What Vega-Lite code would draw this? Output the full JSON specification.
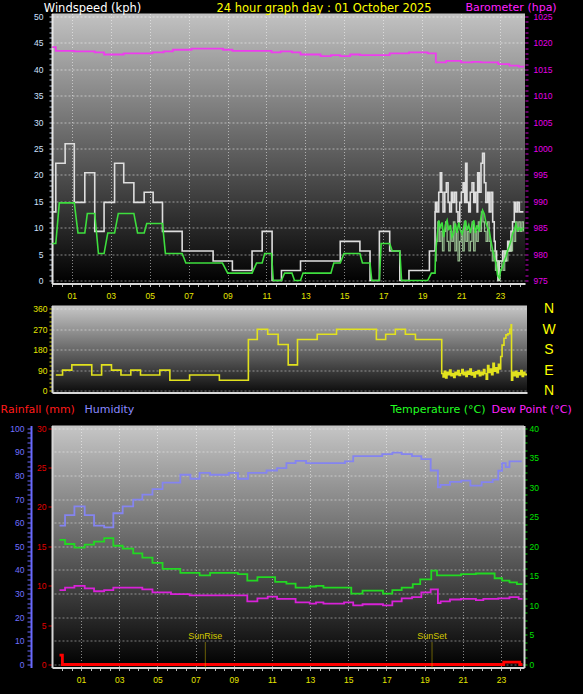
{
"$schema": "https://vega.github.io/schema/vega-lite/v6.json",
"background": "#000000",
"padding": {"left": 0, "top": 0.5, "right": 14, "bottom": 14},
"spacing": 0,
"bounds": "flush",
"config": {
  "view": {"stroke": null},
  "font": "Liberation Sans",
  "axis": {"labelFont": "Liberation Sans", "titleFont": "DejaVu Sans", "labelFontSize": 8.5, "titleFontWeight": "normal", "titleFontSize": 11.5, "labelOverlap": false, "labelBound": false, "labelFlush": false, "titleAngle": 0, "titleAlign": "left", "titleBaseline": "top"}
},
"resolve": {"scale": {"x": "independent", "y": "independent"}},
"datasets": {
  "gust": [{"h":0,"v":13.0},{"h":0.18,"v":22.2},{"h":0.66,"v":25.9},{"h":1.13,"v":14.8},{"h":1.67,"v":20.4},{"h":2.18,"v":9.3},{"h":2.66,"v":14.8},{"h":3.2,"v":22.2},{"h":3.67,"v":18.5},{"h":4.19,"v":14.8},{"h":4.72,"v":16.7},{"h":5.18,"v":14.8},{"h":5.66,"v":9.3},{"h":6.67,"v":5.6},{"h":8.26,"v":3.7},{"h":9.25,"v":1.9},{"h":10.26,"v":5.6},{"h":10.78,"v":9.3},{"h":11.29,"v":0},{"h":11.77,"v":1.9},{"h":12.75,"v":3.7},{"h":14.79,"v":7.4},{"h":15.8,"v":5.6},{"h":16.32,"v":0},{"h":16.8,"v":9.3},{"h":17.33,"v":5.6},{"h":17.85,"v":0},{"h":18.32,"v":1.9},{"h":19.37,"v":5.6},{"h":19.66,"v":13.0},{"h":19.68,"v":14.8},{"h":19.76,"v":13.0},{"h":19.85,"v":16.7},{"h":19.93,"v":20.4},{"h":20.0,"v":16.7},{"h":20.07,"v":13.0},{"h":20.16,"v":16.7},{"h":20.24,"v":18.5},{"h":20.33,"v":14.8},{"h":20.41,"v":13.0},{"h":20.5,"v":16.7},{"h":20.58,"v":14.8},{"h":20.67,"v":16.7},{"h":20.76,"v":13.0},{"h":20.84,"v":11.1},{"h":20.93,"v":14.8},{"h":21.01,"v":16.7},{"h":21.1,"v":18.5},{"h":21.18,"v":14.8},{"h":21.23,"v":22.2},{"h":21.3,"v":14.8},{"h":21.39,"v":13.0},{"h":21.47,"v":16.7},{"h":21.56,"v":18.5},{"h":21.65,"v":14.8},{"h":21.73,"v":16.7},{"h":21.82,"v":13.0},{"h":21.85,"v":20.4},{"h":21.93,"v":16.7},{"h":22.02,"v":22.2},{"h":22.1,"v":24.1},{"h":22.19,"v":18.5},{"h":22.27,"v":14.8},{"h":22.36,"v":16.7},{"h":22.44,"v":13.0},{"h":22.53,"v":16.7},{"h":22.62,"v":11.1},{"h":22.7,"v":7.4},{"h":22.75,"v":5.6},{"h":22.82,"v":3.7},{"h":22.89,"v":0},{"h":22.96,"v":3.7},{"h":23.13,"v":5.6},{"h":23.22,"v":3.7},{"h":23.3,"v":5.6},{"h":23.39,"v":7.4},{"h":23.47,"v":5.6},{"h":23.56,"v":9.3},{"h":23.64,"v":11.1},{"h":23.73,"v":14.8},{"h":23.81,"v":13.0},{"h":23.9,"v":14.8},{"h":23.99,"v":13.0},{"h":24.2,"v":13.0}],
  "latest": [{"h":19.66,"v":3.7},{"h":19.72,"v":7.4},{"h":19.8,"v":11.1},{"h":19.88,"v":7.4},{"h":19.96,"v":9.3},{"h":20.04,"v":5.6},{"h":20.12,"v":9.3},{"h":20.2,"v":11.1},{"h":20.28,"v":7.4},{"h":20.36,"v":5.6},{"h":20.44,"v":9.3},{"h":20.52,"v":7.4},{"h":20.6,"v":11.1},{"h":20.68,"v":5.6},{"h":20.76,"v":9.3},{"h":20.84,"v":3.7},{"h":20.92,"v":7.4},{"h":21.0,"v":9.3},{"h":21.08,"v":5.6},{"h":21.16,"v":11.1},{"h":21.24,"v":7.4},{"h":21.32,"v":9.3},{"h":21.4,"v":5.6},{"h":21.48,"v":7.4},{"h":21.56,"v":11.1},{"h":21.64,"v":5.6},{"h":21.72,"v":9.3},{"h":21.8,"v":7.4},{"h":21.88,"v":11.1},{"h":21.96,"v":9.3},{"h":22.04,"v":13.0},{"h":22.12,"v":11.1},{"h":22.2,"v":9.3},{"h":22.28,"v":7.4},{"h":22.36,"v":11.1},{"h":22.44,"v":7.4},{"h":22.52,"v":5.6},{"h":22.6,"v":3.7},{"h":22.68,"v":5.6},{"h":22.76,"v":1.9},{"h":22.84,"v":3.7},{"h":22.92,"v":0},{"h":23.0,"v":1.9},{"h":23.08,"v":3.7},{"h":23.16,"v":1.9},{"h":23.24,"v":5.6},{"h":23.32,"v":3.7},{"h":23.4,"v":5.6},{"h":23.48,"v":7.4},{"h":23.56,"v":5.6},{"h":23.64,"v":9.3},{"h":23.72,"v":7.4},{"h":23.8,"v":11.1},{"h":23.88,"v":9.3},{"h":23.96,"v":11.1},{"h":24.04,"v":9.3},{"h":24.12,"v":11.1},{"h":24.2,"v":9.3}],
  "avg": [{"h":0,"v":7.0},{"h":0.18,"v":7.0},{"h":0.36,"v":14.7},{"h":1.13,"v":14.7},{"h":1.32,"v":9.0},{"h":1.67,"v":9.0},{"h":1.8,"v":12.7},{"h":2.18,"v":12.7},{"h":2.37,"v":5.1},{"h":2.66,"v":5.1},{"h":2.85,"v":9.0},{"h":3.2,"v":9.0},{"h":3.39,"v":12.7},{"h":4.19,"v":12.7},{"h":4.38,"v":9.0},{"h":4.72,"v":9.0},{"h":4.85,"v":10.8},{"h":5.66,"v":10.8},{"h":5.81,"v":5.1},{"h":6.67,"v":5.1},{"h":6.86,"v":3.3},{"h":8.74,"v":3.3},{"h":9.01,"v":1.4},{"h":10.26,"v":1.4},{"h":10.49,"v":3.3},{"h":10.78,"v":3.3},{"h":10.91,"v":5.1},{"h":11.26,"v":5.1},{"h":11.35,"v":0},{"h":11.77,"v":0},{"h":11.93,"v":1.4},{"h":12.31,"v":1.4},{"h":12.44,"v":0},{"h":12.75,"v":0},{"h":12.88,"v":1.4},{"h":14.31,"v":1.4},{"h":14.46,"v":3.3},{"h":14.79,"v":3.3},{"h":14.98,"v":5.1},{"h":15.8,"v":5.1},{"h":15.93,"v":3.3},{"h":16.32,"v":3.3},{"h":16.41,"v":0},{"h":16.8,"v":0},{"h":16.89,"v":7.0},{"h":17.33,"v":7.0},{"h":17.46,"v":5.6},{"h":17.85,"v":5.6},{"h":17.94,"v":0},{"h":19.28,"v":0},{"h":19.47,"v":1.4},{"h":19.66,"v":1.4},{"h":19.68,"v":5.0},{"h":19.76,"v":8.0},{"h":19.85,"v":11.4},{"h":19.93,"v":10.1},{"h":20.02,"v":11.0},{"h":20.1,"v":8.2},{"h":20.19,"v":10.5},{"h":20.28,"v":11.4},{"h":20.36,"v":9.5},{"h":20.45,"v":10.5},{"h":20.53,"v":8.2},{"h":20.62,"v":9.0},{"h":20.7,"v":10.8},{"h":20.79,"v":9.0},{"h":20.88,"v":11.0},{"h":20.96,"v":9.5},{"h":21.05,"v":8.8},{"h":21.13,"v":10.0},{"h":21.22,"v":11.4},{"h":21.3,"v":9.5},{"h":21.39,"v":10.5},{"h":21.47,"v":9.0},{"h":21.56,"v":10.5},{"h":21.65,"v":11.4},{"h":21.73,"v":9.0},{"h":21.82,"v":10.5},{"h":21.85,"v":10.0},{"h":21.93,"v":9.5},{"h":22.02,"v":12.0},{"h":22.1,"v":13.3},{"h":22.19,"v":12.6},{"h":22.27,"v":11.0},{"h":22.36,"v":10.0},{"h":22.44,"v":9.5},{"h":22.53,"v":7.5},{"h":22.62,"v":5.7},{"h":22.7,"v":4.5},{"h":22.79,"v":3.2},{"h":22.87,"v":1.0},{"h":22.96,"v":0.5},{"h":23.04,"v":2.0},{"h":23.13,"v":2.5},{"h":23.22,"v":3.8},{"h":23.3,"v":4.5},{"h":23.39,"v":5.7},{"h":23.47,"v":6.5},{"h":23.56,"v":7.5},{"h":23.64,"v":8.8},{"h":23.73,"v":9.5},{"h":23.81,"v":10.7},{"h":23.9,"v":9.5},{"h":23.99,"v":10.0},{"h":24.07,"v":9.5},{"h":24.2,"v":10.0}],
  "baro": [{"h":0,"v":1019.2},{"h":0.18,"v":1018.5},{"h":1.13,"v":1018.4},{"h":2.18,"v":1018.2},{"h":2.66,"v":1017.8},{"h":3.67,"v":1018.0},{"h":5.14,"v":1018.2},{"h":5.72,"v":1018.4},{"h":6.19,"v":1018.7},{"h":7.15,"v":1018.9},{"h":8.77,"v":1018.7},{"h":9.25,"v":1018.5},{"h":11.26,"v":1018.2},{"h":11.73,"v":1018.4},{"h":12.31,"v":1018.2},{"h":12.75,"v":1017.8},{"h":13.78,"v":1017.5},{"h":14.31,"v":1017.7},{"h":14.79,"v":1017.5},{"h":15.3,"v":1017.8},{"h":15.8,"v":1017.7},{"h":17.33,"v":1018.0},{"h":18.32,"v":1018.2},{"h":19.28,"v":1018.0},{"h":19.7,"v":1016.3},{"h":20.23,"v":1016.6},{"h":20.99,"v":1016.3},{"h":21.57,"v":1016.4},{"h":22.0,"v":1016.3},{"h":22.9,"v":1016.0},{"h":23.48,"v":1015.7},{"h":23.96,"v":1015.5},{"h":24.25,"v":1015.5}],
  "dir": [{"h":-0.13,"v":68},{"h":0.22,"v":90},{"h":0.7,"v":113},{"h":1.73,"v":68},{"h":2.24,"v":113},{"h":2.75,"v":90},{"h":3.24,"v":68},{"h":3.75,"v":90},{"h":4.25,"v":68},{"h":5.25,"v":90},{"h":5.77,"v":45},{"h":6.79,"v":68},{"h":8.33,"v":45},{"h":9.83,"v":225},{"h":10.29,"v":270},{"h":10.83,"v":248},{"h":11.37,"v":203},{"h":11.89,"v":113},{"h":12.37,"v":225},{"h":13.39,"v":248},{"h":14.39,"v":270},{"h":16.45,"v":225},{"h":16.93,"v":248},{"h":17.43,"v":270},{"h":17.95,"v":248},{"h":18.47,"v":225},{"h":19.83,"v":75},{"h":19.9,"v":60},{"h":19.96,"v":85},{"h":20.03,"v":55},{"h":20.1,"v":80},{"h":20.17,"v":70},{"h":20.24,"v":90},{"h":20.31,"v":65},{"h":20.38,"v":75},{"h":20.45,"v":58},{"h":20.52,"v":80},{"h":20.59,"v":70},{"h":20.66,"v":88},{"h":20.73,"v":66},{"h":20.8,"v":75},{"h":20.87,"v":92},{"h":20.94,"v":70},{"h":21.01,"v":80},{"h":21.08,"v":62},{"h":21.15,"v":85},{"h":21.22,"v":72},{"h":21.29,"v":95},{"h":21.36,"v":68},{"h":21.43,"v":78},{"h":21.5,"v":60},{"h":21.57,"v":82},{"h":21.64,"v":74},{"h":21.71,"v":88},{"h":21.78,"v":65},{"h":21.85,"v":80},{"h":21.92,"v":70},{"h":21.99,"v":92},{"h":22.06,"v":75},{"h":22.13,"v":50},{"h":22.2,"v":110},{"h":22.27,"v":80},{"h":22.34,"v":95},{"h":22.41,"v":70},{"h":22.48,"v":120},{"h":22.55,"v":85},{"h":22.62,"v":100},{"h":22.69,"v":78},{"h":22.76,"v":115},{"h":22.83,"v":95},{"h":22.88,"v":150},{"h":22.95,"v":200},{"h":23.05,"v":230},{"h":23.15,"v":245},{"h":23.25,"v":250},{"h":23.35,"v":270},{"h":23.42,"v":290},{"h":23.44,"v":45},{"h":23.5,"v":80},{"h":23.57,"v":65},{"h":23.64,"v":85},{"h":23.71,"v":60},{"h":23.78,"v":78},{"h":23.85,"v":70},{"h":23.92,"v":88},{"h":23.99,"v":62},{"h":24.06,"v":80},{"h":24.13,"v":70},{"h":24.2,"v":75}],
  "hum": [{"h":-0.13,"v":58.8},{"h":0.16,"v":63.2},{"h":0.65,"v":66.9},{"h":1.19,"v":63.2},{"h":1.68,"v":58.8},{"h":2.21,"v":58.0},{"h":2.69,"v":64.0},{"h":3.18,"v":66.9},{"h":3.73,"v":69.8},{"h":4.21,"v":71.9},{"h":4.74,"v":74.2},{"h":5.27,"v":77.0},{"h":6.2,"v":80.3},{"h":6.73,"v":78.6},{"h":7.21,"v":81.1},{"h":7.76,"v":80.3},{"h":8.73,"v":81.1},{"h":9.22,"v":78.6},{"h":9.75,"v":81.1},{"h":10.72,"v":82.1},{"h":11.27,"v":83.1},{"h":11.76,"v":85.2},{"h":12.24,"v":86.2},{"h":12.79,"v":85.2},{"h":14.83,"v":86.0},{"h":15.26,"v":88.2},{"h":16.78,"v":89.0},{"h":17.31,"v":89.7},{"h":17.8,"v":89.0},{"h":18.34,"v":88.2},{"h":18.83,"v":86.9},{"h":19.32,"v":82.1},{"h":19.7,"v":75.0},{"h":19.84,"v":76.0},{"h":20.33,"v":77.3},{"h":20.92,"v":77.8},{"h":21.4,"v":75.7},{"h":21.99,"v":77.2},{"h":22.57,"v":78.2},{"h":22.86,"v":82.0},{"h":23.06,"v":85.2},{"h":23.25,"v":83.5},{"h":23.45,"v":86.0},{"h":24.09,"v":86.0}],
  "temp": [{"h":-0.13,"v":21.1},{"h":0.16,"v":20.4},{"h":0.65,"v":19.8},{"h":1.19,"v":20.3},{"h":1.68,"v":20.8},{"h":2.21,"v":21.4},{"h":2.69,"v":20.1},{"h":3.18,"v":19.6},{"h":3.73,"v":18.8},{"h":4.21,"v":18.1},{"h":4.74,"v":17.2},{"h":5.27,"v":16.2},{"h":6.2,"v":15.5},{"h":7.21,"v":15.1},{"h":7.76,"v":15.5},{"h":9.22,"v":15.3},{"h":9.71,"v":14.2},{"h":10.24,"v":14.8},{"h":11.17,"v":14.0},{"h":11.76,"v":13.7},{"h":12.24,"v":13.0},{"h":12.98,"v":13.2},{"h":13.31,"v":13.3},{"h":13.7,"v":13.0},{"h":15.16,"v":12.0},{"h":15.75,"v":12.5},{"h":16.82,"v":12.0},{"h":17.31,"v":12.6},{"h":17.8,"v":13.0},{"h":18.38,"v":13.6},{"h":18.77,"v":14.4},{"h":19.35,"v":15.9},{"h":19.65,"v":15.1},{"h":20.91,"v":15.3},{"h":21.69,"v":15.4},{"h":22.67,"v":14.6},{"h":23.06,"v":14.2},{"h":23.45,"v":13.9},{"h":23.84,"v":13.6},{"h":24.13,"v":13.6}],
  "dew": [{"h":-0.13,"v":12.6},{"h":0.16,"v":13.0},{"h":0.65,"v":13.3},{"h":1.19,"v":12.9},{"h":1.68,"v":12.4},{"h":2.21,"v":12.6},{"h":2.69,"v":13.0},{"h":4.21,"v":12.7},{"h":4.74,"v":12.2},{"h":5.71,"v":11.9},{"h":6.69,"v":11.7},{"h":9.71,"v":10.7},{"h":10.24,"v":11.2},{"h":10.78,"v":11.5},{"h":11.27,"v":11.1},{"h":12.24,"v":10.5},{"h":12.98,"v":10.3},{"h":13.31,"v":10.5},{"h":13.7,"v":10.3},{"h":14.78,"v":10.5},{"h":15.26,"v":10.0},{"h":15.75,"v":10.2},{"h":16.82,"v":10.0},{"h":17.31,"v":10.7},{"h":17.8,"v":11.2},{"h":18.34,"v":11.4},{"h":18.83,"v":12.2},{"h":19.32,"v":12.7},{"h":19.7,"v":10.4},{"h":19.84,"v":10.7},{"h":20.33,"v":11.0},{"h":20.91,"v":11.1},{"h":21.69,"v":10.9},{"h":22.08,"v":11.1},{"h":22.86,"v":11.2},{"h":23.45,"v":11.4},{"h":23.93,"v":11.1},{"h":24.13,"v":11.1}],
  "rain": [{"h":-0.13,"v":1.2},{"h":0.02,"v":0},{"h":23.15,"v":0.3},{"h":23.99,"v":0},{"h":24.13,"v":0}],
  "sun": [{"h":7.51,"label":"SunRise"},{"h":19.39,"label":"SunSet"}]
},
"vconcat": [
 {
  "width": 473, "height": 270,
  "view": {"fill": {"gradient": "linear", "x1": 0, "y1": 0, "x2": 0, "y2": 1, "stops": [{"offset": 0, "color": "#c2c2c2"}, {"offset": 1, "color": "#000000"}]}},
  "encoding": {
    "x": {"field": "h", "type": "quantitative", "scale": {"domain": [-0.015, 24.28], "nice": false, "zero": false},
          "axis": {"values": [0,0.5,1,1.5,2,2.5,3,3.5,4,4.5,5,5.5,6,6.5,7,7.5,8,8.5,9,9.5,10,10.5,11,11.5,12,12.5,13,13.5,14,14.5,15,15.5,16,16.5,17,17.5,18,18.5,19,19.5,20,20.5,21,21.5,22,22.5,23,23.5,24],
                   "labelExpr": "datum.value % 2 == 1 ? (datum.value < 10 ? '0' : '') + datum.value : ''",
                   "labelColor": "#e6e600", "labelPadding": 5, "tickSize": 3, "tickColor": "#bbbbbb", "domainColor": "#d6d6d6", "domainWidth": 2,
                   "grid": true, "gridColor": "#ffffff", "gridDash": [1, 2], "gridOpacity": {"condition": {"test": "datum.value % 2 == 1", "value": 0.5}, "value": 0},
                   "title": "24 hour graph day : 01 October 2025", "titleColor": "#ffff00", "titleX": 164, "titleY": -281}}
  },
  "layer": [
   {"encoding": {
      "y": {"field": "v", "type": "quantitative", "scale": {"domain": [-0.57, 50.57], "nice": false, "zero": false},
            "axis": {"values": [0,1,2,3,4,5,6,7,8,9,10,11,12,13,14,15,16,17,18,19,20,21,22,23,24,25,26,27,28,29,30,31,32,33,34,35,36,37,38,39,40,41,42,43,44,45,46,47,48,49,50],
                     "labelExpr": "datum.value % 5 == 0 ? '' + datum.value : ''",
                     "labelColor": "#cfe0ff", "labelPadding": 6, "tickSize": 3, "tickColor": "#b8c8e0", "domainColor": "#e6e6e6", "domainWidth": 2,
                     "grid": true, "gridColor": "#ffffff", "gridDash": [2, 2], "gridOpacity": {"condition": {"test": "datum.value % 5 == 0", "value": 0.5}, "value": 0},
                     "title": "Windspeed (kph)", "titleColor": "#ffffff", "titleX": -8.7, "titleY": -11}}},
    "layer": [
     {"data": {"name": "gust"}, "mark": {"type": "line", "interpolate": "step-after", "color": "#dedede", "strokeWidth": 1.6}},
     {"data": {"name": "latest"}, "mark": {"type": "line", "interpolate": "step-after", "color": "#b4e4ac", "strokeWidth": 1.2, "opacity": 0.8}},
     {"data": {"name": "avg"}, "mark": {"type": "line", "color": "#3ede3e", "strokeWidth": 1.6}}
    ]},
   {"data": {"name": "baro"}, "mark": {"type": "line", "interpolate": "step-after", "color": "#ee3cee", "strokeWidth": 1.8},
    "encoding": {
      "y": {"field": "v", "type": "quantitative", "scale": {"domain": [974.43, 1025.57], "nice": false, "zero": false},
            "axis": {"orient": "right", "values": [975,976,977,978,979,980,981,982,983,984,985,986,987,988,989,990,991,992,993,994,995,996,997,998,999,1000,1001,1002,1003,1004,1005,1006,1007,1008,1009,1010,1011,1012,1013,1014,1015,1016,1017,1018,1019,1020,1021,1022,1023,1024,1025],
                     "labelExpr": "datum.value % 5 == 0 ? '' + datum.value : ''",
                     "labelColor": "#e600e6", "labelPadding": 5, "tickSize": 3, "tickColor": "#d000d0", "domain": false, "grid": false,
                     "title": "Barometer (hpa)", "titleColor": "#ff22ff", "titleFontSize": 11, "titleX": -60, "titleY": -12.5}}}}
  ],
  "resolve": {"scale": {"y": "independent"}}
 },
 {"width": 1, "height": 22, "data": {"values": []}, "mark": "point"},
 {
  "width": 475, "height": 87,
  "view": {"fill": {"gradient": "linear", "x1": 0, "y1": 0, "x2": 0, "y2": 1, "stops": [{"offset": 0, "color": "#c8c8c8"}, {"offset": 1, "color": "#0c0c0c"}]}},
  "data": {"name": "dir"},
  "encoding": {
    "x": {"field": "h", "type": "quantitative", "scale": {"domain": [-0.326, 24.24], "nice": false, "zero": false},
          "axis": {"labels": false, "ticks": false, "grid": false, "domainColor": "#d6d6d6", "domainWidth": 2, "title": null}}
  },
  "layer": [
   {"mark": {"type": "line", "interpolate": "step-after", "color": "#e2e21e", "strokeWidth": 1.6},
    "encoding": {
      "y": {"field": "v", "type": "quantitative", "scale": {"domain": [-8.8, 374.5], "nice": false, "zero": false},
            "axis": {"values": [0,18,36,54,72,90,108,126,144,162,180,198,216,234,252,270,288,306,324,342,360],
                     "labelExpr": "datum.value % 90 == 0 ? '' + datum.value : ''",
                     "labelColor": "#e6e600", "labelPadding": 2, "tickSize": 3, "tickColor": "#d0d000", "domainColor": "#d6d6d6", "domainWidth": 2,
                     "grid": true, "gridColor": "#ffffff", "gridDash": [2, 2], "gridOpacity": {"condition": {"test": "datum.value % 90 == 0", "value": 0.45}, "value": 0},
                     "title": null}}}},
   {"mark": {"type": "point", "opacity": 0},
    "encoding": {
      "y": {"field": "v", "type": "quantitative", "scale": {"domain": [-8.8, 374.5], "nice": false, "zero": false},
            "axis": {"orient": "right", "values": [0, 90, 180, 270, 360],
                     "labelExpr": "datum.value == 90 ? 'E' : datum.value == 180 ? 'S' : datum.value == 270 ? 'W' : 'N'",
                     "labelColor": "#ffff00", "labelFontSize": 14, "labelAlign": "center", "labelPadding": 21.5, "ticks": false, "tickSize": 0, "domain": false, "grid": false, "title": null}}}}
  ],
  "resolve": {"scale": {"y": "independent"}}
 },
 {"width": 1, "height": 33, "data": {"values": []}, "mark": "point"},
 {
  "width": 472, "height": 242,
  "view": {"fill": {"gradient": "linear", "x1": 0, "y1": 0, "x2": 0, "y2": 1, "stops": [{"offset": 0, "color": "#c6c6c6"}, {"offset": 1, "color": "#000000"}]}},
  "encoding": {
    "x": {"field": "h", "type": "quantitative", "scale": {"domain": [-0.524, 24.21], "nice": false, "zero": false},
          "axis": {"values": [0,0.5,1,1.5,2,2.5,3,3.5,4,4.5,5,5.5,6,6.5,7,7.5,8,8.5,9,9.5,10,10.5,11,11.5,12,12.5,13,13.5,14,14.5,15,15.5,16,16.5,17,17.5,18,18.5,19,19.5,20,20.5,21,21.5,22,22.5,23,23.5,24],
                   "labelExpr": "datum.value % 2 == 1 ? (datum.value < 10 ? '0' : '') + datum.value : ''",
                   "labelColor": "#e6e600", "labelPadding": 5, "tickSize": 3, "tickColor": "#bbbbbb", "domainColor": "#d6d6d6", "domainWidth": 2,
                   "grid": true, "gridColor": "#ffffff", "gridDash": [1, 2], "gridOpacity": {"condition": {"test": "datum.value % 2 == 1", "value": 0.5}, "value": 0},
                   "title": null}}
  },
  "layer": [
   {"layer": [
     {"data": {"name": "rain"}, "mark": {"type": "line", "interpolate": "step-after", "color": "#ff0000", "strokeWidth": 2.8},
      "encoding": {
        "y": {"field": "v", "type": "quantitative", "scale": {"domain": [-0.38, 30.34], "nice": false, "zero": false},
              "axis": {"orient": "left", "values": [0,1.25,2.5,3.75,5,6.25,7.5,8.75,10,11.25,12.5,13.75,15,16.25,17.5,18.75,20,21.25,22.5,23.75,25,26.25,27.5,28.75,30],
                       "labelExpr": "datum.value % 5 == 0 ? '' + datum.value : ''",
                       "labelColor": "#e00000", "labelPadding": 2, "tickSize": 4, "tickColor": "#d00000", "domainColor": "#d6d6d6", "domainWidth": 2, "grid": false,
                       "title": "Rainfall (mm)", "titleColor": "#ff1a1a", "titleFontSize": 11, "titleX": -52, "titleY": -21.8}}}},
     {"data": {"name": "sun"}, "mark": {"type": "rule", "color": "#c8b400", "strokeDash": [1, 1], "strokeWidth": 1},
      "encoding": {"y": {"datum": -0.38}, "y2": {"datum": 2.8}}},
     {"data": {"name": "sun"}, "mark": {"type": "text", "color": "#d2c800", "fontSize": 9, "baseline": "bottom", "align": "center", "font": "Liberation Sans"},
      "encoding": {"y": {"datum": 3.0}, "text": {"field": "label"}}}
   ]},
   {"data": {"name": "hum"}, "mark": {"type": "line", "interpolate": "step-after", "color": "#8484f0", "strokeWidth": 1.8},
    "encoding": {
      "y": {"field": "v", "type": "quantitative", "scale": {"domain": [-1.27, 101.14], "nice": false, "zero": false},
            "axis": {"orient": "left", "offset": 21, "values": [0,2,4,6,8,10,12,14,16,18,20,22,24,26,28,30,32,34,36,38,40,42,44,46,48,50,52,54,56,58,60,62,64,66,68,70,72,74,76,78,80,82,84,86,88,90,92,94,96,98,100],
                     "labelExpr": "datum.value % 10 == 0 ? '' + datum.value : ''",
                     "labelColor": "#7070ff", "labelPadding": 3, "tickSize": 4, "tickColor": "#6a6aff", "domainColor": "#6a6aff", "domainWidth": 2, "grid": false,
                     "title": "Humidity", "titleColor": "#8a8aff", "titleFontSize": 11, "titleX": 53, "titleY": -21.8}}}},
   {"data": {"name": "temp"}, "mark": {"type": "line", "interpolate": "step-after", "color": "#22d822", "strokeWidth": 1.8},
    "encoding": {
      "y": {"field": "v", "type": "quantitative", "scale": {"domain": [-0.51, 40.46], "nice": false, "zero": false},
            "axis": {"orient": "right", "values": [0,1.25,2.5,3.75,5,6.25,7.5,8.75,10,11.25,12.5,13.75,15,16.25,17.5,18.75,20,21.25,22.5,23.75,25,26.25,27.5,28.75,30,31.25,32.5,33.75,35,36.25,37.5,38.75,40],
                     "labelExpr": "datum.value % 5 == 0 ? '' + datum.value : ''",
                     "labelColor": "#00e000", "labelPadding": 2, "tickSize": 3, "tickColor": "#00c800", "domainColor": "#d6d6d6", "domainWidth": 2, "grid": false,
                     "title": "Temperature (°C)", "titleColor": "#22ff22", "titleFontSize": 11, "titleX": -134, "titleY": -21.8}}}},
   {"data": {"name": "dew"}, "mark": {"type": "line", "interpolate": "step-after", "color": "#d822d8", "strokeWidth": 1.8},
    "encoding": {
      "y": {"field": "v", "type": "quantitative", "scale": {"domain": [-0.51, 40.46], "nice": false, "zero": false},
            "axis": {"orient": "right", "values": [0,4,8,12,16,20,24,28,32,36,40], "labels": false, "ticks": false, "domain": false,
                     "grid": true, "gridColor": "#ffffff", "gridDash": [2, 2], "gridOpacity": 0.45,
                     "title": "Dew Point (°C)", "titleColor": "#ff22ff", "titleFontSize": 11, "titleX": -33, "titleY": -21.8}}}}
  ],
  "resolve": {"scale": {"y": "independent"}}
 }
]
}
